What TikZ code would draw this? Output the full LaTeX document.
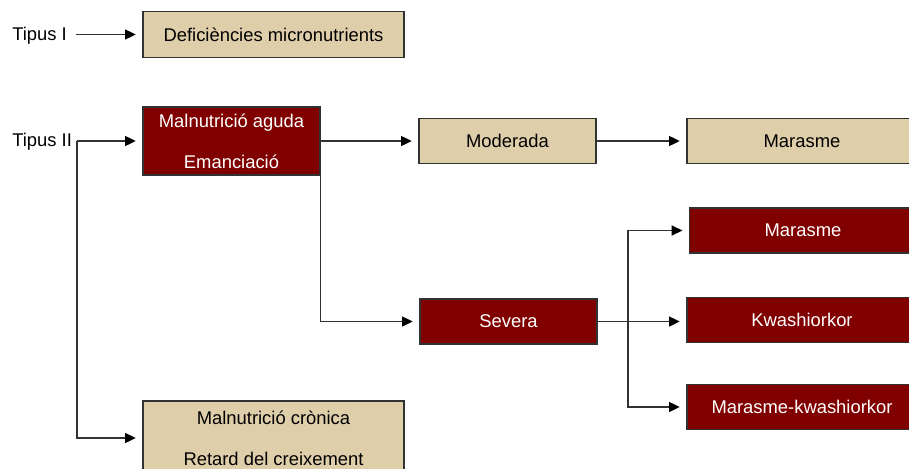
\documentclass[tikz,border=0pt]{standalone}
\usepackage{fontspec}
\setmainfont{Liberation Sans}
\usepackage{tikz}
\usetikzlibrary{arrows.meta,positioning}
\definecolor{tanfill}{RGB}{223,206,170}
\definecolor{darkred}{RGB}{128,0,0}
\definecolor{edgegray}{RGB}{50,50,50}

\tikzset{
  box/.style={draw=edgegray, line width=0.9pt, inner sep=0pt, align=center,
    font=\fontsize{13.8}{30.75}\selectfont},
  tanbox/.style={box, fill=tanfill, text=black},
  redbox/.style={box, fill=darkred, text=white},
  link/.style={draw=edgegray, line width=1pt,
    -{Triangle[length=8pt,width=7.5pt,color=black]}, shorten >=5pt},
  lbl/.style={font=\fontsize{13.8}{16}\selectfont, inner sep=0pt}
}

\begin{document}
\begin{tikzpicture}[x=0.75pt, y=-0.75pt]
  \useasboundingbox (0,0) rectangle (909,468);
  \clip (0,0) rectangle (909,468);
  % Define nodes
  \node[tanbox, minimum width=195.75pt, minimum height=34.5pt] (def) at (273.5,34.5) {Deficiències micronutrients};
  \node[redbox, minimum width=132.75pt, minimum height=51pt] (aguda) at (231.5,141) {Malnutrició aguda\\Emanciació};
  \node[tanbox, minimum width=132.75pt, minimum height=33.75pt] (moder) at (507.5,141) {Moderada};
  \node[redbox, minimum width=132.75pt, minimum height=33.75pt] (sever) at (508.5,321.5) {Severa};
  \node[tanbox, minimum width=172.5pt, minimum height=33.75pt] (mar) at (802,141) {Marasme};
  \node[redbox, minimum width=170pt, minimum height=33.75pt] (marsev) at (803,230.5) {Marasme};
  \node[redbox, minimum width=172.5pt, minimum height=33.75pt] (kwash) at (802,320) {Kwashiorkor};
  \node[redbox, minimum width=172.5pt, minimum height=33.75pt] (markw) at (802,407) {Marasme-kwashiorkor};
  \node[tanbox, minimum width=195.75pt, minimum height=55.5pt] (cronica) at (273.5,438) {Malnutrició crònica\\Retard del creixement};
  \node[lbl, anchor=west] (tip1) at (12,35.5) {Tipus I};
  \node[lbl, anchor=west] (tip2) at (12,142) {Tipus II};
  \coordinate (split) at (77,141);
  \coordinate (fork) at (628,321.5);
  % Connect nodes
  \draw[link] ([xshift=7pt]tip1.east |- def.west) -- (def.west);
  \draw[link] (split) -- (aguda.west);
  \draw[link] (split) |- (cronica.west);
  \draw[link] (aguda.east) -- (moder.west);
  \draw[link] ([yshift=7pt]aguda.south east) |- (sever.west);
  \draw[link] (moder.east) -- (mar.west);
  \draw[link] (sever.east) -- (kwash.west |- sever.east);
  \draw[link] (fork) |- (marsev.west);
  \draw[link] (fork) |- (markw.west);
\end{tikzpicture}
\end{document}
